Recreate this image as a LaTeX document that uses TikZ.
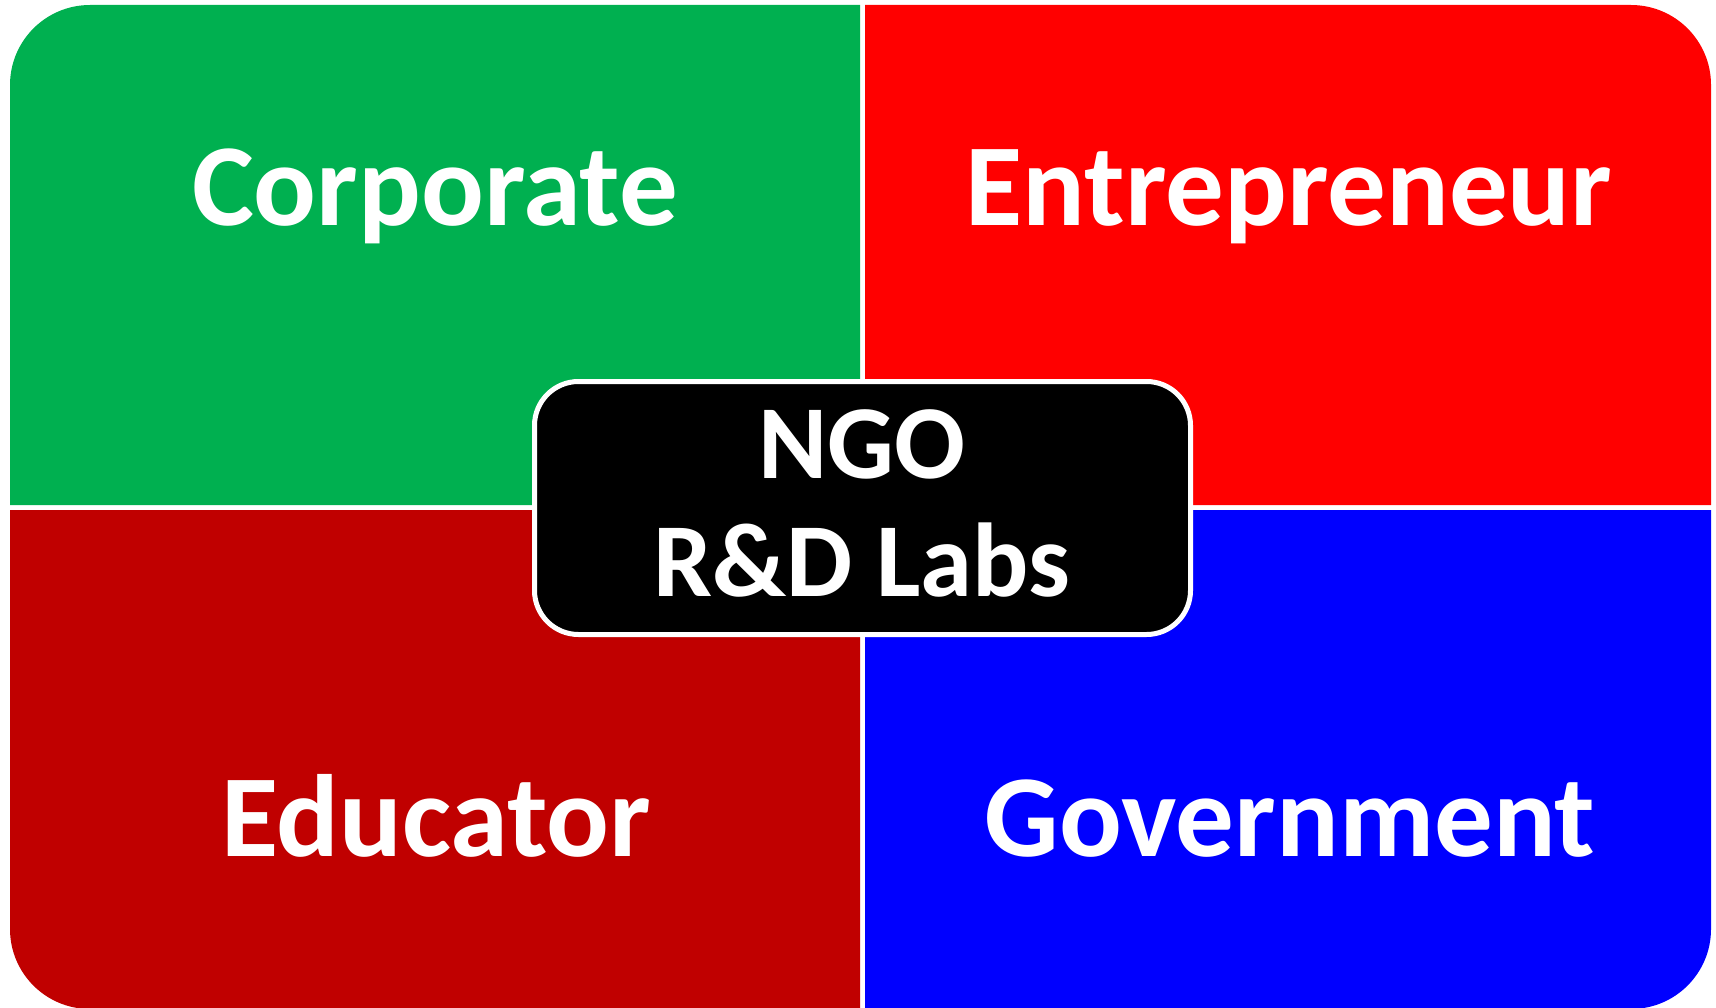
\documentclass[tikz,border=0pt]{standalone}
\usepackage{fontspec}
\setmainfont{Carlito}
\definecolor{qgreen}{HTML}{00B050}
\definecolor{qred}{HTML}{FF0000}
\definecolor{qdark}{HTML}{C00000}
\definecolor{qblue}{HTML}{0000FF}
\tikzset{
  quadlabel/.style={text=white,font=\bfseries\fontsize{117}{140}\selectfont,inner sep=0pt,anchor=base},
  centerbox/.style={fill=black,draw=white,line width=5pt,rounded corners=44pt},
  centerlabel/.style={text=white,font=\bfseries\fontsize{105}{118}\selectfont,inner sep=0pt,anchor=base}
}
\begin{document}
\begin{tikzpicture}[x=1pt,y=-1pt]
\useasboundingbox (0,0) rectangle (1716,1008);
% quadrants
\fill[qgreen] (10,505) [rounded corners=80pt] -- (10,5) [sharp corners] -- (860,5) -- (860,505) -- cycle;
\fill[qred] (865,505) -- (865,5) [rounded corners=80pt] -- (1711,5) [sharp corners] -- (1711,505) -- cycle;
\fill[qdark] (860,510) -- (860,1009) [rounded corners=80pt] -- (10,1009) [sharp corners] -- (10,510) -- cycle;
\fill[qblue] (865,510) -- (1711,510) [rounded corners=80pt] -- (1711,1009) [sharp corners] -- (865,1009) -- cycle;
\node[quadlabel] (corp) at (435,226) {Corporate};
\node[quadlabel] (entr) at (1289,226) {Entrepreneur};
\node[quadlabel] (educ) at (436,856) {Educator};
\node[quadlabel] (gov) at (1290,856) {Government};
\path[centerbox] (534.5,381.5) rectangle (1190.5,634.5);
\node[centerlabel] (ngo) at (862,478) {NGO};
\node[centerlabel] (rnd) at (862,596) {R\&D Labs};
\end{tikzpicture}
\end{document}
